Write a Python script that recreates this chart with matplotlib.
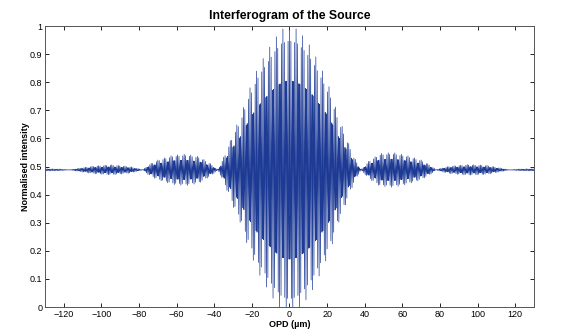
import numpy as np
import matplotlib
matplotlib.use("Agg")
import matplotlib.pyplot as plt

plt.rcParams["font.family"] = ["Liberation Sans", "DejaVu Sans"]

# Envelope (half-amplitude of fringes), by OPD (µm)
opd_pts = [-130, -122, -117, -112, -105, -95, -85, -80, -78, -75, -70, -62, -55, -48, -42, -38,
           -34, -30, -26, -22, -17, -12, -8, -4, 0,
           4, 8, 12, 17, 22, 26, 30, 34, 38,
           42, 48, 55, 62, 70, 75, 78, 80, 85, 95, 105, 112, 117, 122, 130]
env_amp = [0.004, 0.003, 0.0, 0.006, 0.013, 0.018, 0.012, 0.004, 0.0, 0.018, 0.035, 0.052, 0.056, 0.047, 0.022, 0.0,
           0.06, 0.13, 0.19, 0.275, 0.36, 0.42, 0.465, 0.50, 0.51,
           0.50, 0.47, 0.43, 0.36, 0.28, 0.19, 0.12, 0.05, 0.0,
           0.03, 0.058, 0.062, 0.052, 0.035, 0.016, 0.0, 0.005, 0.013, 0.019, 0.016, 0.007, 0.0, 0.003, 0.004]
baseline = 0.488          # mean intensity level
fringe_period = 0.7       # µm, fringe spacing
sample_step = 0.25        # µm, sampling of the recorded interferogram

x_ticks = [-120, -100, -80, -60, -40, -20, 0, 20, 40, 60, 80, 100, 120]
y_ticks = [0, 0.1, 0.2, 0.3, 0.4, 0.5, 0.6, 0.7, 0.8, 0.9, 1]
y_ticklabels = ["0", "0.1", "0.2", "0.3", "0.4", "0.5", "0.6", "0.7", "0.8", "0.9", "1"]

opd = np.arange(-130, 130.001, sample_step)
env = np.interp(opd, opd_pts, env_amp)
intensity = baseline + env * np.cos(2 * np.pi * opd / fringe_period)

fig = plt.figure(figsize=(5.74, 3.36), dpi=100)
ax = fig.add_axes([0.0784, 0.0863, 0.8519, 0.8363])
ax.plot(opd, intensity, color="#1d3a94", linewidth=0.5)
ax.set_xlim(-130, 130)
ax.set_ylim(0, 1)
ax.set_xticks(x_ticks)
ax.set_yticks(y_ticks)
ax.set_yticklabels(y_ticklabels)
ax.tick_params(direction="in", top=True, right=True, labelsize=6.5, length=3, width=0.6, pad=2)
for s in ax.spines.values():
    s.set_linewidth(0.7)
    s.set_color("#555555")
ax.set_title("Interferogram of the Source", fontsize=8.8, fontweight="bold", pad=5)
ax.set_xlabel("OPD (µm)", fontsize=6.5, fontweight="bold", labelpad=1)
ax.set_ylabel("Normalised intensity", fontsize=6.5, fontweight="bold", labelpad=0)
fig.savefig("out.png", dpi=100)
